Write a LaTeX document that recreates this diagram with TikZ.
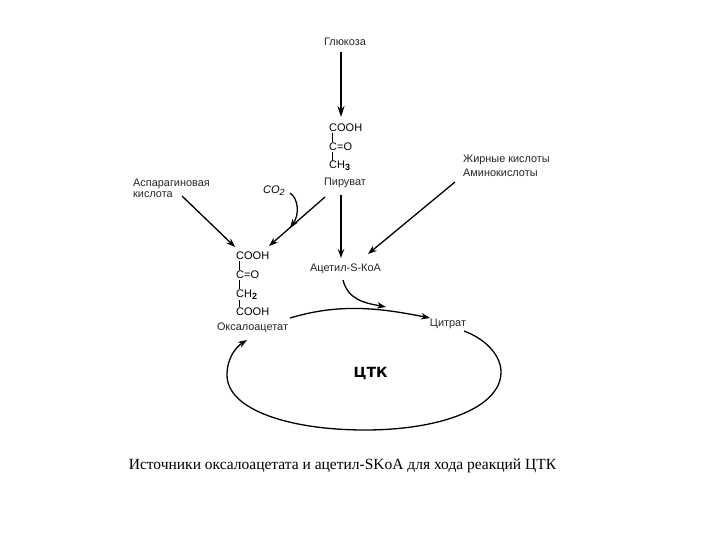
\documentclass[tikz,border=0pt]{standalone}
\usepackage{fontspec}
\setmainfont{Liberation Sans}
\newfontfamily\capfont{Liberation Serif}
\newfontfamily\boldwide{DejaVu Sans}
\usetikzlibrary{arrows.meta}
\newcommand{\lowsub}[1]{\raisebox{-2pt}{\fontsize{9}{10}\selectfont\bfseries #1}}
\tikzset{
  x=1pt,y=-1pt,
  lbl/.style={inner sep=0pt,font=\fontsize{10.9}{12}\selectfont,text=black!85},
  chem/.style={inner sep=0pt,font=\fontsize{11}{12}\selectfont,anchor=west},
  bond/.style={line width=0.7pt},
  arr/.style={line width=1.3pt,-{Stealth[length=9pt,width=6.5pt]}},
  bigarr/.style={line width=1.5pt,-{Stealth[length=11pt,width=7pt]}},
}
\begin{document}
\begin{tikzpicture}
\useasboundingbox (0,0) rectangle (720,540);
\fill[white] (0,0) rectangle (720,540);
% labels
\node[lbl] (gluc) at (345,41.5) {Глюкоза};
\node[chem] (c1) at (329,128) {COOH};
\node[chem] (c2) at (329,147) {C=O};
\node[chem] (c3) at (329,166) {CH\lowsub{3}};
\node[lbl] (pyr) at (345,183) {Пируват};
\node[lbl,anchor=west] (asp1) at (133,183.5) {Аспарагиновая};
\node[lbl,anchor=west] (asp2) at (133,194.5) {кислота};
\node[lbl,anchor=west,font=\itshape\fontsize{11}{12}\selectfont,text=black] (co2) at (263,191) {CO\raisebox{-2pt}{\fontsize{9}{10}\selectfont 2}};
\node[lbl,anchor=west] (fat1) at (463,159.5) {Жирные кислоты};
\node[lbl,anchor=west] (fat2) at (463,172.5) {Аминокислоты};
\node[lbl] (acet) at (345.5,268.5) {Ацетил-S-КоА};
\node[chem] (o1) at (236,256) {COOH};
\node[chem] (o2) at (236,275) {C=O};
\node[chem] (o3) at (236,295) {CH\lowsub{2}};
\node[chem] (o4) at (236,312) {COOH};
\node[lbl] (oxa) at (252.5,328) {Оксалоацетат};
\node[lbl] (cit) at (448,323.5) {Цитрат};
\node[inner sep=0pt,font=\boldwide\bfseries\fontsize{14}{14}\selectfont] (tca) at (370.5,373.5) {ЦТК};
\node[inner sep=0pt,font=\capfont\fontsize{15.5}{17}\selectfont] (cap) at (342.5,465.5) {Источники оксалоацетата и ацетил-SKoA для хода реакций ЦТК};
% free ends
\coordinate (g0) at (341,52);
\coordinate (g1) at (341,117);
\coordinate (p0) at (341,195);
\coordinate (p1) at (341,258);
\coordinate (pb0) at (325,197);
\coordinate (ob1) at (269,246);
\coordinate (a0) at (182,196);
\coordinate (a1) at (235,247);
\coordinate (co0) at (290,193);
\coordinate (co1) at (290,228);
\coordinate (f0) at (455,182);
\coordinate (f1) at (368,254);
\coordinate (k0) at (343,280);
\coordinate (k1) at (386,307);
\coordinate (t0) at (290,318);
\coordinate (t1) at (430,318);
\coordinate (r0) at (464,331);
\coordinate (r1) at (247,340);
% bonds
\draw[bond] (332.5,133) -- (332.5,142);
\draw[bond] (332.5,152) -- (332.5,161);
\draw[bond] (239.5,261) -- (239.5,270);
\draw[bond] (239.5,280) -- (239.5,289);
\draw[bond] (239.5,300) -- (239.5,307);
% connectors
\draw[bigarr] (g0) -- (g1);
\draw[arr] (p0) -- (p1);
\draw[arr] (pb0) -- (ob1);
\draw[arr] (a0) -- (a1);
\draw[arr] (co0) .. controls (298,198) and (300,214) .. (co1);
\draw[arr] (f0) -- (f1);
\draw[arr] (k0) .. controls (348,300) and (365,303) .. (k1);
\draw[arr] (t0) .. controls (340,303) and (380,308) .. (t1);
\draw[arr] (r0) .. controls (488,340) and (501,357) .. (501,372)
  .. controls (501,408) and (440,430) .. (365,430)
  .. controls (290,430) and (227,410) .. (227,375)
  .. controls (227,358) and (236,347) .. (r1);
\end{tikzpicture}
\end{document}
